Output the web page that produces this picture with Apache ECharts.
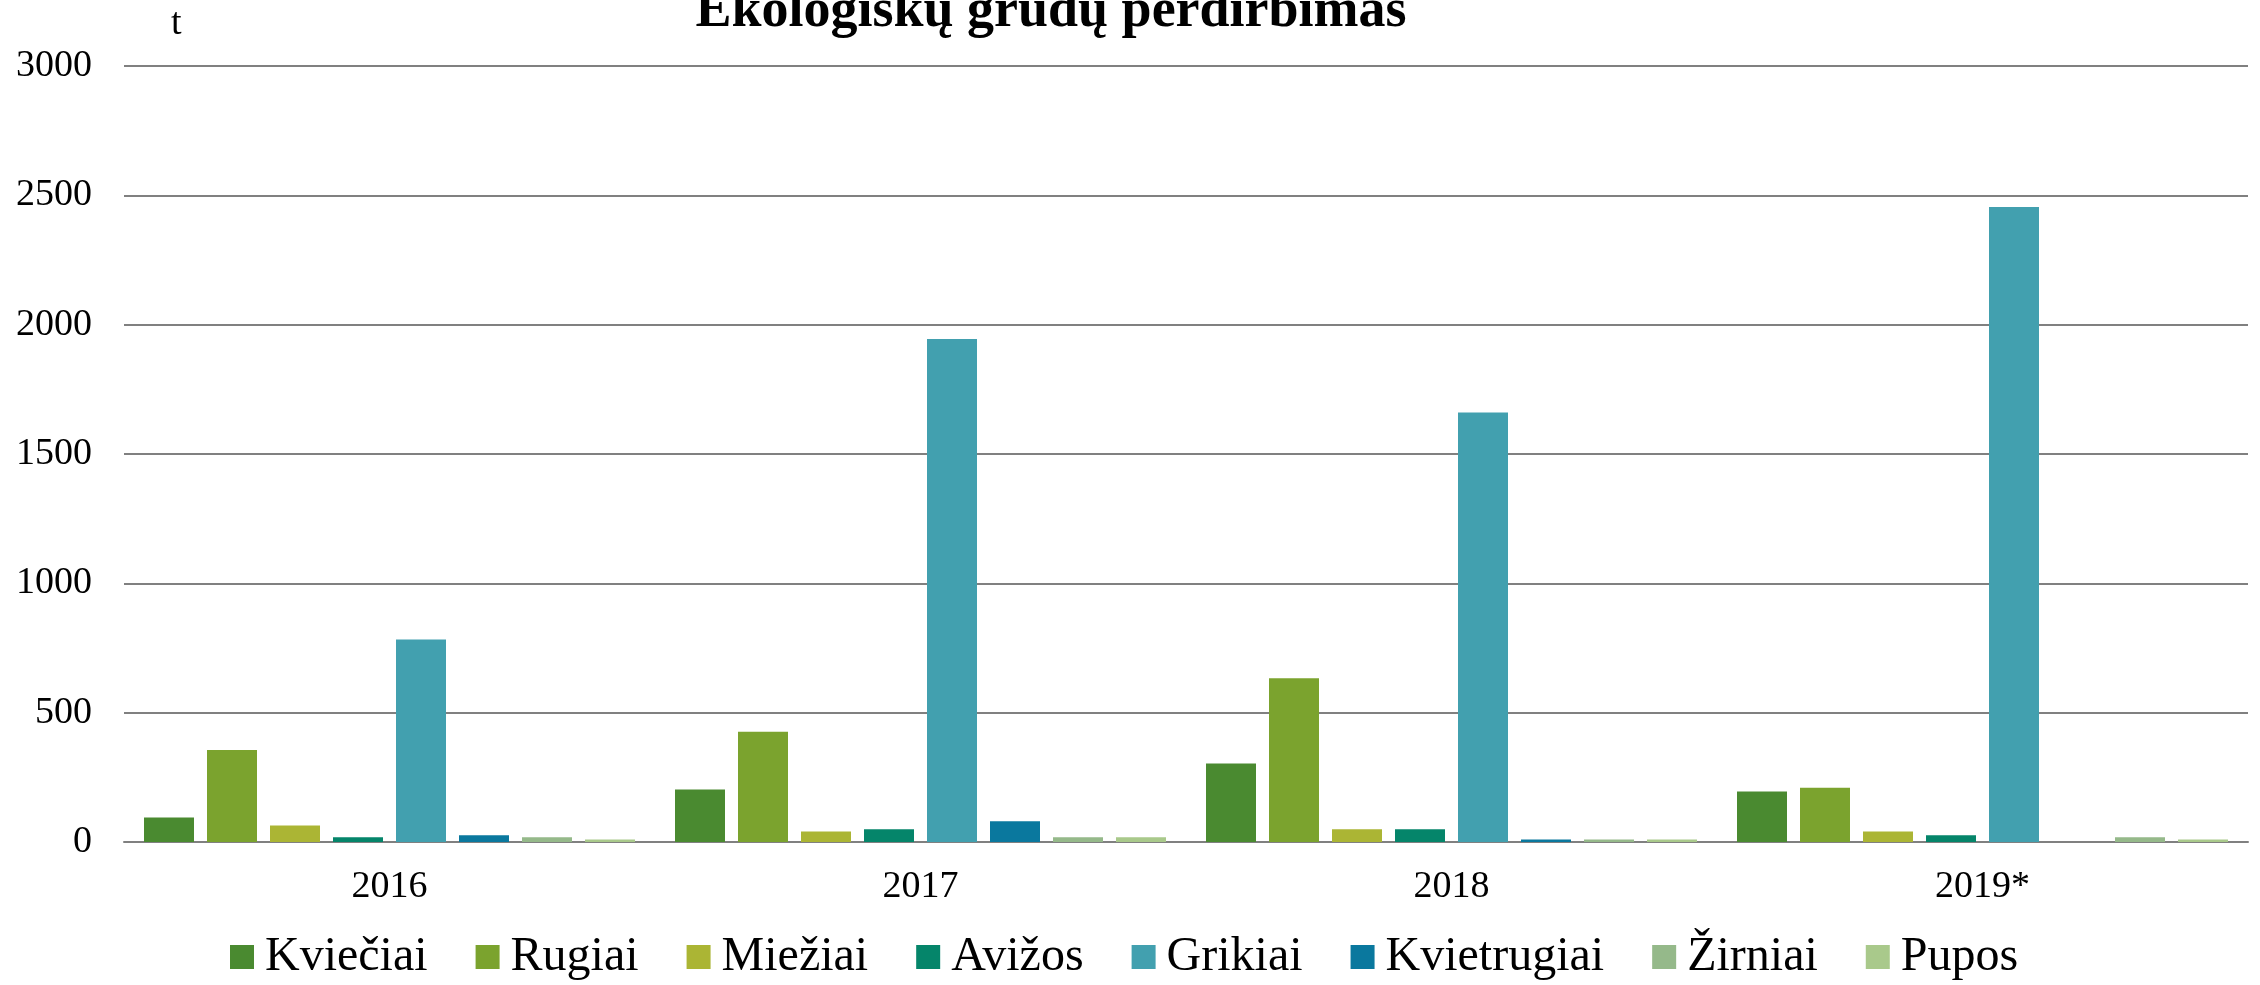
<!DOCTYPE html>
<html>
<head>
<meta charset="utf-8">
<title>Ekologiškų grūdų perdirbimas</title>
<script src="https://cdn.jsdelivr.net/npm/echarts@6/dist/echarts.min.js"></script>
<style>
    html, body { margin: 0; padding: 0; background: #fff; }
    #mainChart { width: 2260px; height: 985px; }
</style>
</head>
<body>
<div id="mainChart"></div>
<script>
// 数据 (t)
const years = ['2016', '2017', '2018', '2019*'];
const kvieciai = [95, 203, 303, 195];
const rugiai = [356, 426, 633, 210];
const miežiai = [64, 41, 49, 41];
const avizos = [18, 49, 49, 26];
const grikiai = [783, 1945, 1660, 2455];
const kvietrugiai = [26, 80, 10, 0];
const zirniai = [18, 18, 10, 18];
const pupos = [10, 18, 10, 10];

const seriesNames = ['Kviečiai', 'Rugiai', 'Miežiai', 'Avižos', 'Grikiai', 'Kvietrugiai', 'Žirniai', 'Pupos'];
const seriesData = [kvieciai, rugiai, miežiai, avizos, grikiai, kvietrugiai, zirniai, pupos];
const colors = ['#4a8a30', '#7ba32e', '#abb534', '#05856a', '#42a0af', '#0a789e', '#95b98a', '#a9c98b'];

const FONT = '"Liberation Serif", "Times New Roman", serif';
const GRID_COLOR = '#808080';

const chart = echarts.init(document.getElementById('mainChart'));

const option = {
    animation: false,
    color: colors,
    textStyle: { fontFamily: FONT, color: '#000' },
    title: [
        {
            text: 'Ekologiškų grūdų perdirbimas',
            left: 1051,
            top: -15,
            padding: 0,
            textAlign: 'center',
            textStyle: { fontFamily: FONT, fontSize: 54, fontWeight: 'bold', color: '#000' }
        },
        {
            // vienetai
            text: 't',
            left: 171,
            top: 5,
            padding: 0,
            textStyle: { fontFamily: FONT, fontSize: 38, fontWeight: 'normal', color: '#000' }
        }
    ],
    legend: {
        data: seriesNames,
        left: 230,
        top: 933,
        padding: 0,
        itemWidth: 24,
        itemHeight: 24,
        itemGap: 48,
        icon: 'rect',
        textStyle: { fontFamily: FONT, fontSize: 48, color: '#000', padding: [0, 0, 0, 6] }
    },
    grid: { left: 124, right: 12, top: 66, bottom: 143, containLabel: false },
    xAxis: {
        type: 'category',
        data: years,
        axisLine: { lineStyle: { color: GRID_COLOR, width: 2 } },
        axisTick: { show: false },
        axisLabel: { fontFamily: FONT, fontSize: 38, color: '#000', margin: 26 }
    },
    yAxis: {
        type: 'value',
        min: 0,
        max: 3000,
        interval: 500,
        axisLine: { show: false },
        axisTick: { show: false },
        axisLabel: {
            fontFamily: FONT, fontSize: 38, color: '#000', margin: 32,
            formatter: (v) => String(v)
        },
        splitLine: { lineStyle: { color: GRID_COLOR, width: 2 } }
    },
    series: seriesNames.map((name, i) => ({
        name: name,
        type: 'bar',
        data: seriesData[i],
        barWidth: 50,
        barGap: '26%'
    }))
};

chart.setOption(option);
</script>
</body>
</html>
